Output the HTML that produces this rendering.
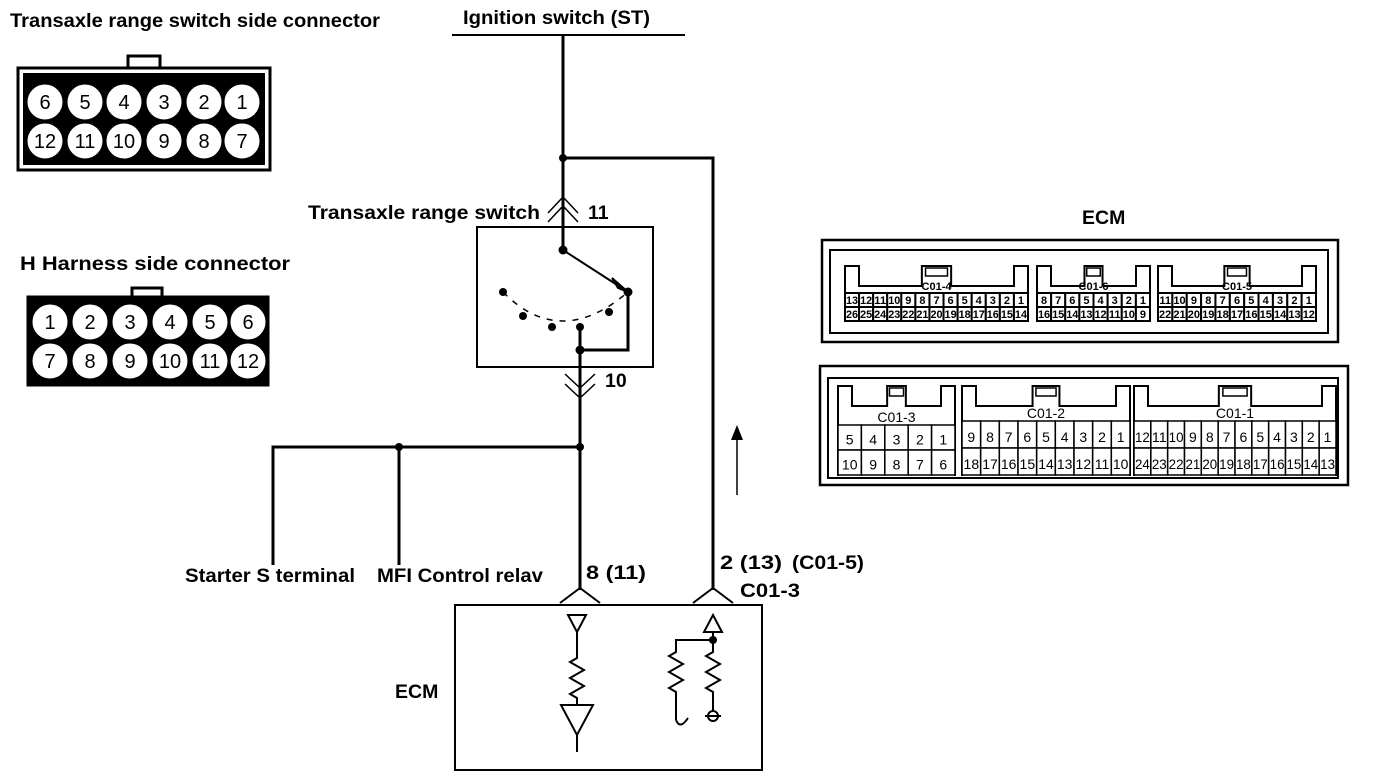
<!DOCTYPE html>
<html><head><meta charset="utf-8"><style>
html,body{margin:0;padding:0;background:#fff;width:1392px;height:778px;overflow:hidden}
svg{display:block}
text{font-family:"Liberation Sans",Arial,sans-serif;fill:#000}
</style></head><body>
<svg id="s" width="1392" height="778" viewBox="0 0 1392 778" xmlns="http://www.w3.org/2000/svg">
<g font-size="19.5" font-weight="bold">
<text x="10" y="27" textLength="370" lengthAdjust="spacingAndGlyphs">Transaxle range switch side connector</text>
<text x="20" y="270" textLength="270" lengthAdjust="spacingAndGlyphs">H Harness side connector</text>
<text x="463" y="24" textLength="187" lengthAdjust="spacingAndGlyphs">Ignition switch (ST)</text>
<text x="308" y="219" textLength="232" lengthAdjust="spacingAndGlyphs">Transaxle range  switch</text>
<text x="588" y="219">11</text>
<text x="605" y="387">10</text>
<text x="1082" y="224">ECM</text>
<text x="185" y="582" textLength="170" lengthAdjust="spacingAndGlyphs">Starter S terminal</text>
<text x="377" y="582" textLength="166" lengthAdjust="spacingAndGlyphs">MFI Control relav</text>
<text x="586" y="579" textLength="60" lengthAdjust="spacingAndGlyphs">8 (11)</text>
<text x="720" y="569" textLength="62" lengthAdjust="spacingAndGlyphs">2 (13)</text>
<text x="792" y="569" textLength="72" lengthAdjust="spacingAndGlyphs">(C01-5)</text>
<text x="740" y="597" textLength="60" lengthAdjust="spacingAndGlyphs">C01-3</text>
<text x="395" y="698">ECM</text>
</g>
<g stroke="#000" fill="none" stroke-width="2">
<line x1="452" y1="35" x2="685" y2="35"/>
<polyline points="563,35 563,250" stroke-width="3"/>
<polyline points="563,158 713,158 713,590" stroke-width="3"/>
<path d="M548,213 L563,197 L578,213 M548,222 L563,206 L578,222" stroke-width="1.5"/>
<rect x="477" y="227" width="176" height="140"/>
<line x1="563" y1="250" x2="628" y2="292" stroke-width="2"/>
<polygon points="628,292 612,278 618,288" fill="#000"/>
<polyline points="628,292 628,350 580,350" stroke-width="3"/>
<path d="M503,292 Q560,350 628,292" stroke-dasharray="6,7" stroke-width="1.5"/>
<polyline points="580,327 580,590" stroke-width="3"/>
<path d="M565,374 L580,388 L595,374 M565,384 L580,398 L595,384" stroke-width="1.5"/>
<polyline points="273,565 273,447 580,447" stroke-width="3"/>
<line x1="399" y1="447" x2="399" y2="565" stroke-width="3"/>
<line x1="737" y1="440" x2="737" y2="495" stroke-width="1.5"/>
<path d="M560,603 L580,588 L600,603 M693,603 L713,588 L733,603" stroke-width="2"/>
<rect x="455" y="605" width="307" height="165"/>
<polygon points="568,615 586,615 577,632"/>
<polyline points="577,632 577,658 570,662 584,670 570,678 584,686 570,694 577,698 577,705"/>
<polygon points="561,705 593,705 577,735"/>
<line x1="577" y1="735" x2="577" y2="752"/>
<polygon points="704,632 722,632 713,615"/>
<polyline points="713,632 713,652 706,656 720,664 706,672 720,680 706,688 713,692 713,712"/>
<polyline points="713,640 676,640 676,652 669,656 683,664 669,672 683,680 669,688 676,692 676,720 Q676,724 668,716"/>
<path d="M676,720 Q680,730 688,718"/>
<circle cx="713" cy="716" r="5"/><line x1="705" y1="716" x2="721" y2="716"/>
<rect x="18" y="68" width="252" height="102" stroke-width="3"/>
<rect x="24" y="74" width="240" height="90" fill="#000"/>
<path d="M128,68 L128,56 L160,56 L160,68" stroke-width="3"/>
<rect x="28" y="297" width="240" height="88" fill="#000" stroke-width="3"/>
<path d="M132,297 L132,288 L162,288 L162,297" stroke-width="3"/>
<rect x="822" y="240" width="516" height="102" stroke-width="2.5"/>
<rect x="830" y="250" width="498" height="83"/>
<rect x="820" y="366" width="528" height="119" stroke-width="2.5"/>
<rect x="828" y="378" width="510" height="100"/>
</g>
<g fill="#000">
<circle cx="563" cy="158" r="4"/><circle cx="563" cy="250" r="4.5"/><circle cx="628" cy="292" r="4.5"/>
<circle cx="503" cy="292" r="4"/><circle cx="523" cy="316" r="4"/><circle cx="552" cy="327" r="4"/><circle cx="580" cy="327" r="4"/><circle cx="609" cy="312" r="4"/>
<circle cx="580" cy="350" r="4.5"/><circle cx="580" cy="447" r="4"/><circle cx="399" cy="447" r="4"/><circle cx="713" cy="640" r="4"/>
<polygon points="737,425 731,440 743,440"/>
</g>
<g id="pins"></g>
</svg>
<script>
var NS="http://www.w3.org/2000/svg",g=document.getElementById("pins");
function el(t,a,txt){var e=document.createElementNS(NS,t);for(var k in a)if(a[k]!=null)e.setAttribute(k,a[k]);if(txt!=null)e.textContent=txt;g.appendChild(e);return e;}
function circ(xs,ys,rows){for(var r=0;r<2;r++)for(var i=0;i<6;i++){el("circle",{cx:xs[i],cy:ys[r],r:18.5,fill:"#fff",stroke:"#000","stroke-width":2});el("text",{x:xs[i],y:ys[r]+7,"font-size":20,"text-anchor":"middle"},rows[r][i]);}}
circ([45,85,124,164,204,242],[102,141],[[6,5,4,3,2,1],[12,11,10,9,8,7]]);
circ([50,90,130,170,210,248],[322,361],[[1,2,3,4,5,6],[7,8,9,10,11,12]]);
function conn(x,y,w,h,label,top,bot,py,ph,fs,bold){
 el("path",{d:"M"+x+","+(y+h)+" L"+x+","+y+" L"+(x+14)+","+y+" L"+(x+14)+","+(y+20)+" L"+(x+w*0.42)+","+(y+20)+" L"+(x+w*0.42)+","+y+" L"+(x+w*0.58)+","+y+" L"+(x+w*0.58)+","+(y+20)+" L"+(x+w-14)+","+(y+20)+" L"+(x+w-14)+","+y+" L"+(x+w)+","+y+" L"+(x+w)+","+(y+h),fill:"none",stroke:"#000","stroke-width":2});
 el("rect",{x:x+w*0.44,y:y+2,width:w*0.12,height:8,fill:"none",stroke:"#000","stroke-width":1.5});
 el("text",{x:x+w/2,y:py-3,"font-size":fs,"text-anchor":"middle","font-weight":bold?"bold":"normal"},label);
 var n=top.length,cw=w/n;
 [top,bot].forEach(function(row,r){row.forEach(function(v,i){var cx=x+i*cw,cy=py+r*ph;
  el("rect",{x:cx,y:cy,width:cw,height:ph,fill:"#fff",stroke:"#000","stroke-width":bold?2:1.5});
  var a={x:cx+cw/2,y:cy+ph*0.78,"font-size":fs,"text-anchor":"middle","font-weight":bold?"bold":"normal"};
  if(String(v).length>1&&fs*1.1>cw-2){a.textLength=cw-2;a.lengthAdjust="spacingAndGlyphs";}
  el("text",a,v);});});
}
function rng(a,b){var r=[];if(a>b)for(var i=a;i>=b;i--)r.push(i);else for(var i=a;i<=b;i++)r.push(i);return r;}
conn(845,266,183,56,"C01-4",rng(13,1),rng(26,14),293,14,11,true);
conn(1037,266,113,56,"C01-6",rng(8,1),rng(16,9),293,14,11,true);
conn(1158,266,158,56,"C01-5",rng(11,1),rng(22,12),293,14,11,true);
conn(838,386,117,90,"C01-3",rng(5,1),rng(10,6),425,25,14,false);
conn(962,386,168,90,"C01-2",rng(9,1),rng(18,10),421,27,14,false);
conn(1134,386,202,90,"C01-1",rng(12,1),rng(24,13),421,27,14,false);
</script>
</body></html>
